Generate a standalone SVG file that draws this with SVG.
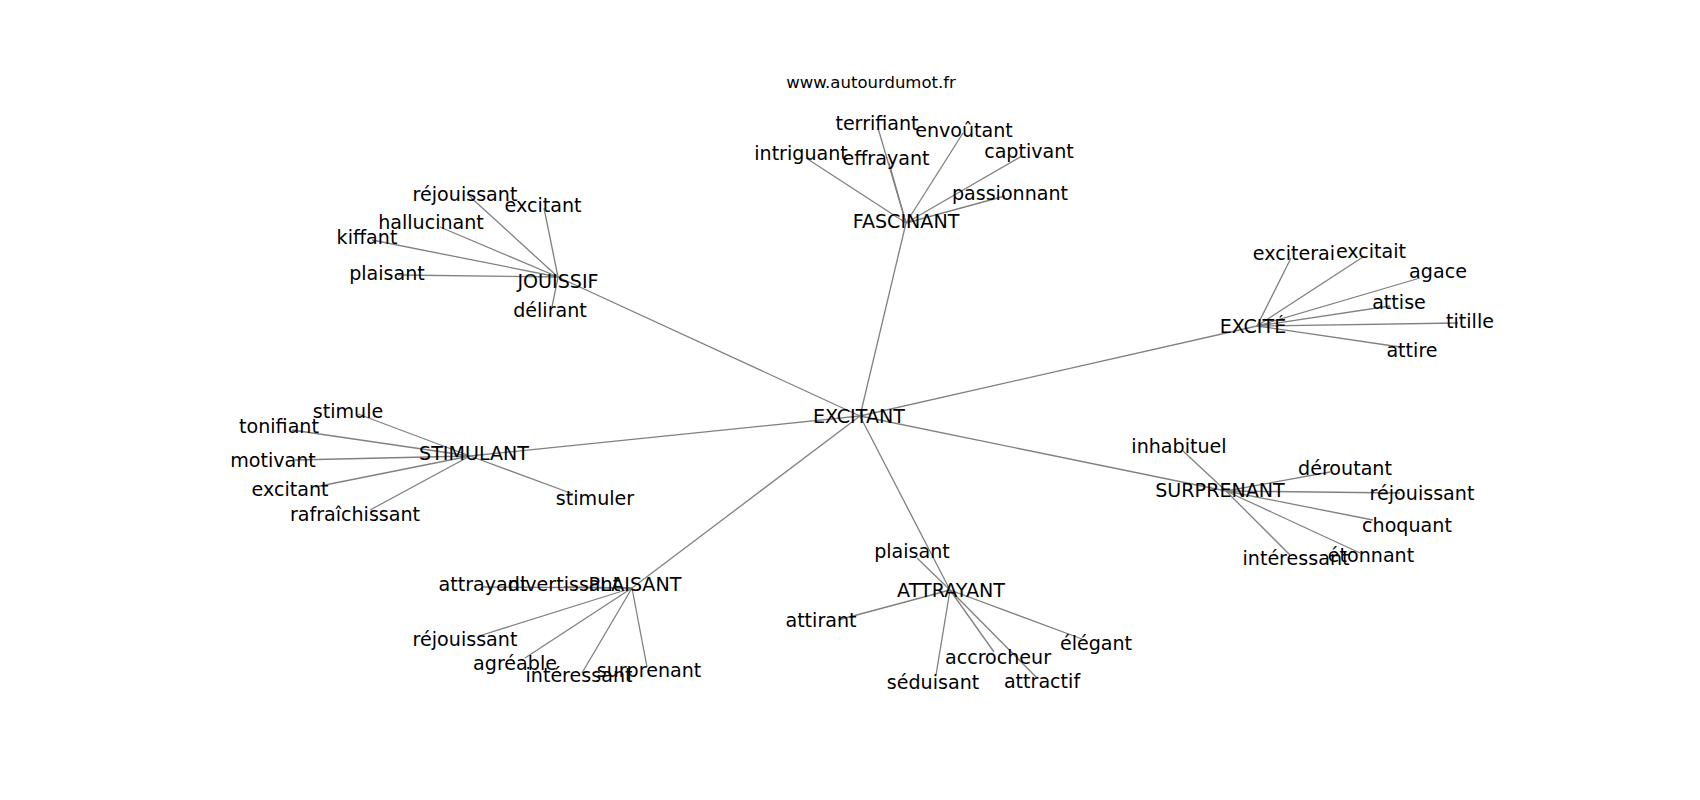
<svg xmlns="http://www.w3.org/2000/svg" width="1700" height="800" viewBox="0 0 1700 800">
<style>
.bg{fill:#ffffff}
.e line{stroke:#808080;stroke-width:1.3;fill:none}
.n text{font-family:"DejaVu Sans","Liberation Sans",sans-serif;font-size:19.1px;fill:#000000;text-anchor:middle}
.wm{font-family:"DejaVu Sans","Liberation Sans",sans-serif;font-size:16.5px;fill:#000000;text-anchor:middle}
</style>
<rect class="bg" x="0" y="0" width="1700" height="800"/>
<text class="wm" x="871" y="88">www.autourdumot.fr</text>
<g id="connectors" class="e">
<line x1="860" y1="416" x2="906" y2="223"/>
<line x1="860" y1="416" x2="558" y2="277"/>
<line x1="860" y1="416" x2="1257" y2="326"/>
<line x1="860" y1="416" x2="470" y2="456"/>
<line x1="860" y1="416" x2="1226" y2="491"/>
<line x1="860" y1="416" x2="632" y2="588"/>
<line x1="860" y1="416" x2="950" y2="590"/>
<line x1="906" y1="223" x2="878" y2="128"/>
<line x1="906" y1="223" x2="963" y2="133"/>
<line x1="906" y1="223" x2="806" y2="158"/>
<line x1="906" y1="223" x2="889" y2="163"/>
<line x1="906" y1="223" x2="1022" y2="156"/>
<line x1="906" y1="223" x2="1005" y2="196"/>
<line x1="558" y1="277" x2="467" y2="194"/>
<line x1="558" y1="277" x2="544" y2="208"/>
<line x1="558" y1="277" x2="440" y2="227"/>
<line x1="558" y1="277" x2="372" y2="240"/>
<line x1="558" y1="277" x2="398" y2="275"/>
<line x1="558" y1="277" x2="552" y2="307"/>
<line x1="1257" y1="326" x2="1291" y2="258"/>
<line x1="1257" y1="326" x2="1363" y2="257"/>
<line x1="1257" y1="326" x2="1420" y2="278"/>
<line x1="1257" y1="326" x2="1390" y2="306"/>
<line x1="1257" y1="326" x2="1458" y2="323"/>
<line x1="1257" y1="326" x2="1400" y2="347"/>
<line x1="470" y1="456" x2="358" y2="414"/>
<line x1="470" y1="456" x2="292" y2="430"/>
<line x1="470" y1="456" x2="295" y2="460"/>
<line x1="470" y1="456" x2="315" y2="487"/>
<line x1="470" y1="456" x2="370" y2="510"/>
<line x1="470" y1="456" x2="573" y2="494"/>
<line x1="632" y1="588" x2="483" y2="587"/>
<line x1="632" y1="588" x2="564" y2="587"/>
<line x1="632" y1="588" x2="479" y2="636"/>
<line x1="632" y1="588" x2="525" y2="658"/>
<line x1="632" y1="588" x2="582" y2="673"/>
<line x1="632" y1="588" x2="647" y2="667"/>
<line x1="950" y1="590" x2="917" y2="558"/>
<line x1="950" y1="590" x2="838" y2="620"/>
<line x1="950" y1="590" x2="1082" y2="639"/>
<line x1="950" y1="590" x2="994" y2="652"/>
<line x1="950" y1="590" x2="1037" y2="678"/>
<line x1="950" y1="590" x2="936" y2="675"/>
<line x1="1226" y1="491" x2="1183" y2="451"/>
<line x1="1226" y1="491" x2="1330" y2="472"/>
<line x1="1226" y1="491" x2="1400" y2="493"/>
<line x1="1226" y1="491" x2="1373" y2="520"/>
<line x1="1226" y1="491" x2="1360" y2="553"/>
<line x1="1226" y1="491" x2="1290" y2="555"/>
</g>
<g class="n">
<g id="excitant"><text x="859" y="423">EXCITANT</text></g>
<g id="fascinant"><text x="906" y="228">FASCINANT</text></g>
<g id="fascinant-terrifiant"><text x="877" y="130">terrifiant</text></g>
<g id="fascinant-envoutant"><text x="964" y="137">envoûtant</text></g>
<g id="fascinant-intriguant"><text x="801" y="160">intriguant</text></g>
<g id="fascinant-effrayant"><text x="886" y="165">effrayant</text></g>
<g id="fascinant-captivant"><text x="1029" y="158">captivant</text></g>
<g id="fascinant-passionnant"><text x="1010" y="200">passionnant</text></g>
<g id="jouissif"><text x="558" y="288">JOUISSIF</text></g>
<g id="jouissif-rejouissant"><text x="465" y="201">réjouissant</text></g>
<g id="jouissif-excitant"><text x="543" y="212">excitant</text></g>
<g id="jouissif-hallucinant"><text x="431" y="229">hallucinant</text></g>
<g id="jouissif-kiffant"><text x="367" y="244">kiffant</text></g>
<g id="jouissif-plaisant"><text x="387" y="280">plaisant</text></g>
<g id="jouissif-delirant"><text x="550" y="317">délirant</text></g>
<g id="excite"><text x="1253" y="333">EXCITÉ</text></g>
<g id="excite-exciterai"><text x="1294" y="260">exciterai</text></g>
<g id="excite-excitait"><text x="1371" y="258">excitait</text></g>
<g id="excite-agace"><text x="1438" y="278">agace</text></g>
<g id="excite-attise"><text x="1399" y="309">attise</text></g>
<g id="excite-titille"><text x="1470" y="328">titille</text></g>
<g id="excite-attire"><text x="1412" y="357">attire</text></g>
<g id="stimulant"><text x="474" y="460">STIMULANT</text></g>
<g id="stimulant-stimule"><text x="348" y="418">stimule</text></g>
<g id="stimulant-tonifiant"><text x="279" y="433">tonifiant</text></g>
<g id="stimulant-motivant"><text x="273" y="467">motivant</text></g>
<g id="stimulant-excitant"><text x="290" y="496">excitant</text></g>
<g id="stimulant-rafraichissant"><text x="355" y="521">rafraîchissant</text></g>
<g id="stimulant-stimuler"><text x="595" y="505">stimuler</text></g>
<g id="plaisant"><text x="635" y="591">PLAISANT</text></g>
<g id="plaisant-attrayant"><text x="483" y="591">attrayant</text></g>
<g id="plaisant-divertissant"><text x="564" y="591">divertissant</text></g>
<g id="plaisant-rejouissant"><text x="465" y="646">réjouissant</text></g>
<g id="plaisant-agreable"><text x="515" y="670">agréable</text></g>
<g id="plaisant-interessant"><text x="579" y="682">intéressant</text></g>
<g id="plaisant-surprenant"><text x="649" y="677">surprenant</text></g>
<g id="attrayant"><text x="951" y="597">ATTRAYANT</text></g>
<g id="attrayant-plaisant"><text x="912" y="558">plaisant</text></g>
<g id="attrayant-attirant"><text x="821" y="627">attirant</text></g>
<g id="attrayant-elegant"><text x="1096" y="650">élégant</text></g>
<g id="attrayant-accrocheur"><text x="998" y="664">accrocheur</text></g>
<g id="attrayant-attractif"><text x="1042" y="688">attractif</text></g>
<g id="attrayant-seduisant"><text x="933" y="689">séduisant</text></g>
<g id="surprenant"><text x="1220" y="497">SURPRENANT</text></g>
<g id="surprenant-inhabituel"><text x="1179" y="453">inhabituel</text></g>
<g id="surprenant-deroutant"><text x="1345" y="475">déroutant</text></g>
<g id="surprenant-rejouissant"><text x="1422" y="500">réjouissant</text></g>
<g id="surprenant-choquant"><text x="1407" y="532">choquant</text></g>
<g id="surprenant-etonnant"><text x="1371" y="562">étonnant</text></g>
<g id="surprenant-interessant"><text x="1296" y="565">intéressant</text></g>
</g>
</svg>
